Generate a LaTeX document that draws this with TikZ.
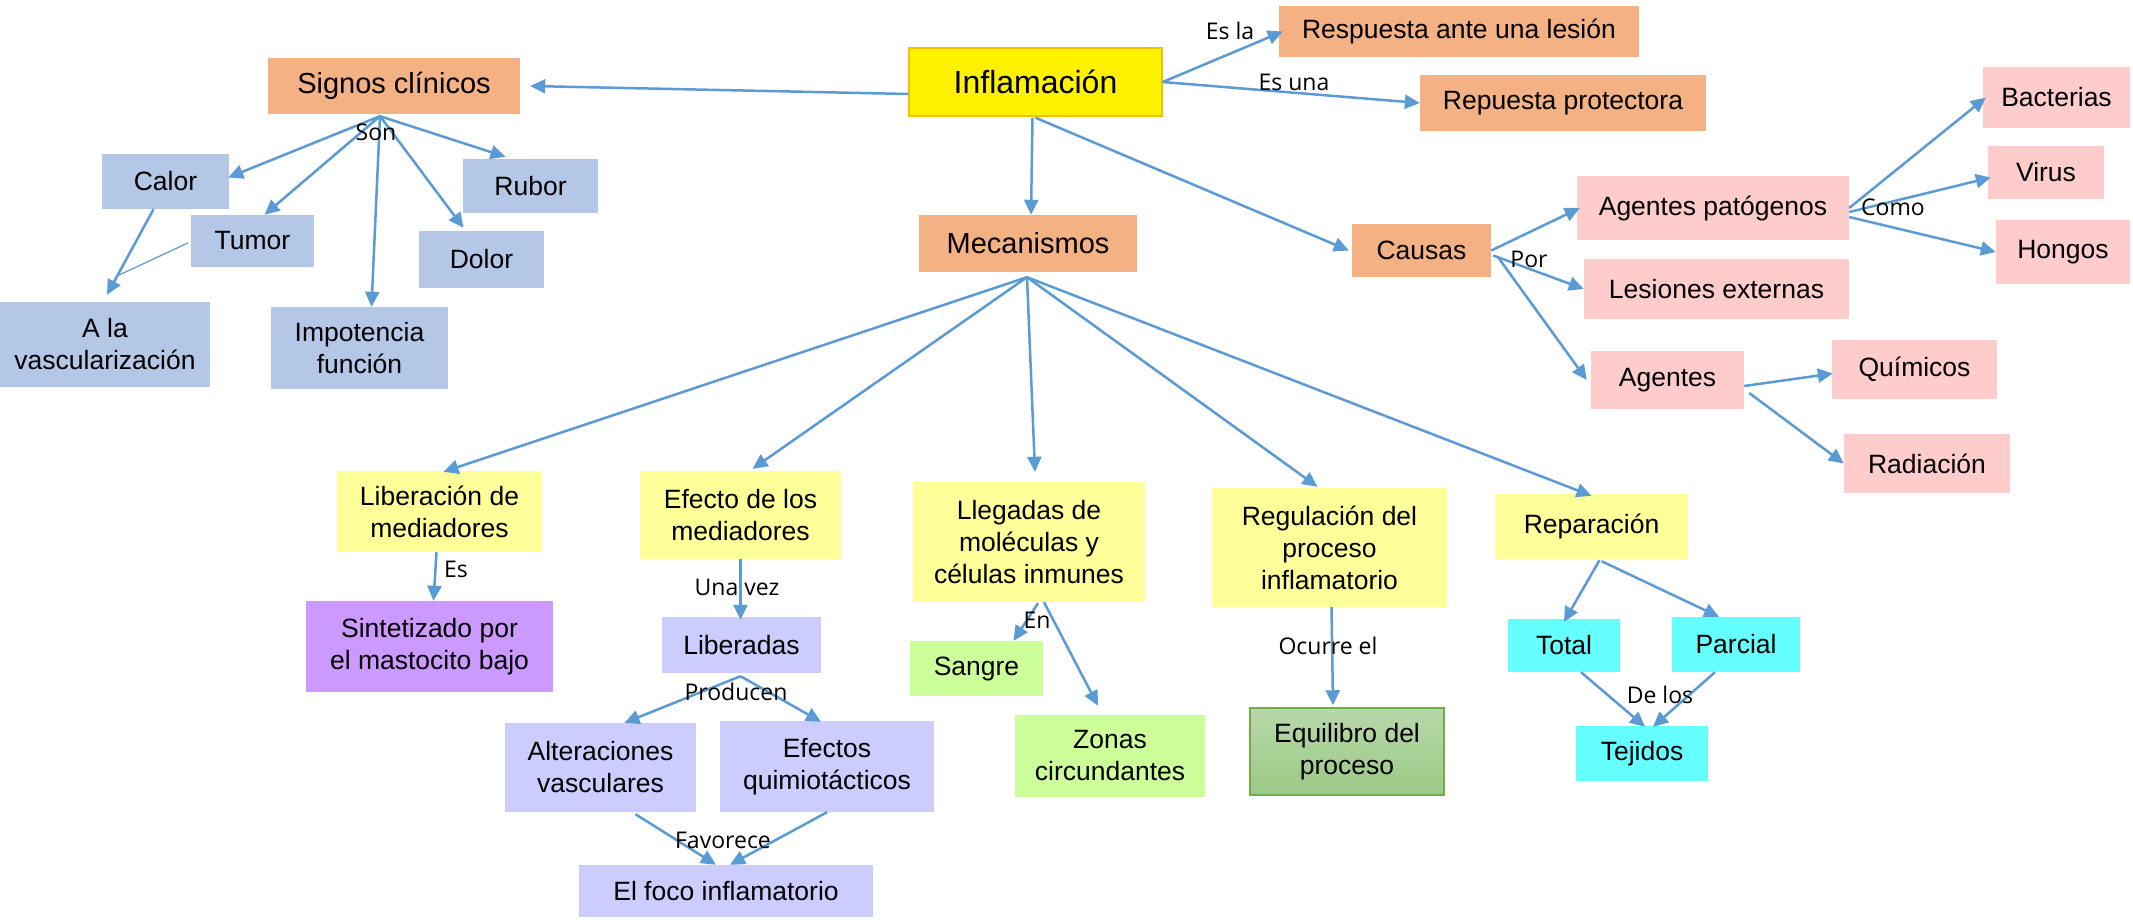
\documentclass[tikz,border=0pt]{standalone}
\usepackage{fontspec}
\setmainfont{Liberation Sans}
\newfontfamily\labfont{Open Sans}
\usetikzlibrary{arrows.meta,calc}
\definecolor{orgC}{HTML}{F4B183}
\definecolor{bluC}{HTML}{B4C7E7}
\definecolor{pnkC}{HTML}{FFCCCC}
\definecolor{ylwC}{HTML}{FFFF99}
\definecolor{purC}{HTML}{CC99FF}
\definecolor{lavC}{HTML}{CCCCFF}
\definecolor{grnC}{HTML}{CCFF99}
\definecolor{cyaC}{HTML}{66FFFF}
\definecolor{arrC}{HTML}{5B9BD5}
\definecolor{goldC}{HTML}{F5C000}
\definecolor{eqTop}{HTML}{B8D8AA}
\definecolor{eqBot}{HTML}{9CC986}
\definecolor{eqBrd}{HTML}{70AD47}
\newcommand\mkbox[7]{\node[box,#2,minimum width=#5pt,minimum height=#6pt] (#1) at (#3,#4) {#7};}
\begin{document}
\begin{tikzpicture}[x=1pt,y=-1pt,
  box/.style={inner sep=0pt, align=center, font=\fontsize{26.5}{32}\selectfont},
  big/.style={font=\fontsize{29}{34}\selectfont},
  conn/.style={draw=arrC, line width=2.5pt, -{Triangle[length=15pt,width=14pt]}},
  thin/.style={draw=arrC, line width=1.2pt},
  lbl/.style={font=\labfont\fontsize{23}{27}\selectfont, inner sep=0pt}]
\useasboundingbox (0,0) rectangle (2133,921);
\fill[white] (0,0) rectangle (2133,921);

% top level
\mkbox{inf}{fill=yellow,draw=goldC,line width=1.5pt,font=\fontsize{32}{38}\selectfont}{1035.5}{82}{253}{68}{Inflamación}
\mkbox{sig}{fill=orgC,big}{394}{86}{252}{56}{Signos clínicos}
\mkbox{resp}{fill=orgC}{1459}{31.5}{360}{51}{Respuesta ante una lesión}
\mkbox{prot}{fill=orgC}{1563}{103}{286}{56}{Repuesta protectora}
\mkbox{mec}{fill=orgC,big}{1028}{243.5}{218}{57}{Mecanismos}
\mkbox{causas}{fill=orgC}{1421.5}{250.5}{139}{53}{Causas}

% signos
\mkbox{calor}{fill=bluC}{165.5}{181.5}{127}{55}{Calor}
\mkbox{tumor}{fill=bluC}{252.5}{241}{123}{52}{Tumor}
\mkbox{rubor}{fill=bluC}{530.5}{186}{135}{54}{Rubor}
\mkbox{dolor}{fill=bluC}{481.5}{259.5}{125}{57}{Dolor}
\mkbox{ala}{fill=bluC}{105}{344.5}{210}{85}{A la\\vascularización}
\mkbox{impot}{fill=bluC}{359.5}{348}{177}{82}{Impotencia\\función}

% causas
\mkbox{ap}{fill=pnkC}{1713}{208}{272}{64}{Agentes patógenos}
\mkbox{les}{fill=pnkC}{1716.5}{289}{265}{60}{Lesiones externas}
\mkbox{ag}{fill=pnkC}{1667.5}{380}{153}{58}{Agentes}
\mkbox{quim}{fill=pnkC}{1914.5}{369.5}{165}{59}{Químicos}
\mkbox{rad}{fill=pnkC}{1927}{463.5}{166}{59}{Radiación}
\mkbox{bact}{fill=pnkC}{2056.5}{97.5}{147}{61}{Bacterias}
\mkbox{virus}{fill=pnkC}{2046}{172.5}{116}{53}{Virus}
\mkbox{hongos}{fill=pnkC}{2063}{252}{134}{64}{Hongos}

% mecanismos
\mkbox{lib}{fill=ylwC}{439.5}{511.5}{205}{81}{Liberación de\\mediadores}
\mkbox{efe}{fill=ylwC}{740.5}{515}{201}{88}{Efecto de los\\mediadores}
\mkbox{lleg}{fill=ylwC}{1029}{542}{232}{120}{Llegadas de\\moléculas y\\células inmunes}
\mkbox{reg}{fill=ylwC}{1329.5}{547.5}{235}{119}{Regulación del\\proceso\\inflamatorio}
\mkbox{rep}{fill=ylwC}{1591.5}{526.5}{193}{65}{Reparación}

\mkbox{sint}{fill=purC}{429.5}{646.5}{247}{91}{Sintetizado por\\el mastocito bajo}
\mkbox{liber}{fill=lavC}{741.5}{645}{159}{56}{Liberadas}
\mkbox{alt}{fill=lavC}{600.5}{767.5}{191}{89}{Alteraciones\\vasculares}
\mkbox{efq}{fill=lavC}{827}{766.5}{214}{91}{Efectos\\quimiotácticos}
\mkbox{foco}{fill=lavC}{726}{891}{294}{52}{El foco inflamatorio}
\mkbox{sangre}{fill=grnC}{976.5}{668.5}{133}{55}{Sangre}
\mkbox{zonas}{fill=grnC}{1110}{756}{190}{82}{Zonas\\circundantes}
\mkbox{equi}{top color=eqTop,bottom color=eqBot,draw=eqBrd,line width=1.5pt}{1347}{751.5}{194}{87}{Equilibro del\\proceso}
\mkbox{total}{fill=cyaC}{1564}{645.5}{112}{53}{Total}
\mkbox{parc}{fill=cyaC}{1736}{644.5}{128}{55}{Parcial}
\mkbox{tej}{fill=cyaC}{1642}{753.5}{132}{55}{Tejidos}

% hubs
\coordinate (sighub) at ($(sig.south)+(-14,2)$);
\coordinate (mechub) at ($(mec.south)+(-1,5)$);
\coordinate (libhub) at ($(liber.south)+(-1,3)$);
\coordinate (tumjoin) at (117,276);

% connectors from Inflamación
\draw[conn] ($(inf.west)+(0,12)$) -- ($(sig.east)+(10,0)$);
\draw[conn] (inf.east) -- ($(resp.west)+(4,0)$);
\draw[conn] (inf.east) -- (prot.west);
\draw[conn] ($(inf.south)+(-3,1)$) -- ($(mec.north)+(3,0)$);
\draw[conn] ($(inf.south)+(0,1)$) -- ($(causas.west)+(-3,0)$);

% Signos
\draw[conn] (sighub) -- ($(calor.east)+(-1,-4)$);
\draw[conn] (sighub) -- ($(tumor.north)+(12,0)$);
\draw[conn] (sighub) -- ($(impot.north)+(12,0)$);
\draw[conn] (sighub) -- ($(dolor.north)+(-18,-3)$);
\draw[conn] (sighub) -- ($(rubor.north)+(-25,-2)$);
\draw[conn] ($(calor.south)+(-12,0)$) -- ($(ala.north)+(2,-7)$);
\draw[thin] ($(tumor.west)+(-3,2)$) -- (tumjoin);

% Mecanismos
\draw[conn] (mechub) -- ($(lib.north)+(4,1)$);
\draw[conn] (mechub) -- ($(efe.north)+(12,-2)$);
\draw[conn] (mechub) -- ($(lleg.north)+(6,-10)$);
\draw[conn] (mechub) -- ($(reg.north)+(-12,-1)$);
\draw[conn] (mechub) -- ($(rep.north)+(0,2)$);

\draw[conn] ($(lib.south)+(-3,0)$) -- ($(sint.north)+(4,0)$);
\draw[conn] (efe.south) -- ($(liber.north)+(-1,3)$);
\draw[conn] (libhub) -- ($(alt.north)+(24,0)$);
\draw[conn] (libhub) -- ($(efq.north)+(-6,1)$);
\draw[conn] ($(alt.south)+(35,2)$) -- ($(foco.north)+(-10,0)$);
\draw[conn] (efq.south) -- ($(foco.north)+(4,0)$);
\draw[conn] ($(lleg.south)+(9,1)$) -- ($(sangre.north)+(37,0)$);
\draw[conn] ($(lleg.south)+(15,0)$) -- ($(zonas.north)+(-12,-9)$);
\draw[conn] ($(reg.south)+(2,0)$) -- ($(equi.north)+(-14,-2)$);
\draw[conn] ($(rep.south)+(8,1)$) -- ($(total.north)+(0,3)$);
\draw[conn] ($(rep.south)+(10,2)$) -- ($(parc.north)+(-17,0)$);
\draw[conn] ($(total.south)+(17,0)$) -- ($(tej.north)+(3,1)$);
\draw[conn] ($(parc.south)+(-21,0)$) -- ($(tej.north)+(11,1)$);

% Causas
\draw[conn] (causas.east) -- ($(ap.west)+(3,0)$);
\draw[conn] ($(causas.east)+(2,5)$) -- (les.west);
\draw[conn] ($(causas.east)+(7,7)$) -- ($(ag.west)+(-4,0)$);
\draw[conn] (ap.east) -- ($(bact.west)+(3,0)$);
\draw[conn] ($(ap.east)+(0,4)$) -- ($(virus.west)+(3,5)$);
\draw[conn] ($(ap.east)+(0,9)$) -- (hongos.west);
\draw[conn] ($(ag.east)+(0,6)$) -- ($(quim.west)+(1,4)$);
\draw[conn] ($(ag.east)+(5,13)$) -- (rad.west);

% labels
\node[lbl] (l1) at (1230,31) {Es la};
\node[lbl] (l2) at (1294,82) {Es una};
\node[lbl] (l3) at (376,132) {Son};
\node[lbl] (l4) at (1893,207) {Como};
\node[lbl] (l5) at (1529,259) {Por};
\node[lbl] (l6) at (456,569) {Es};
\node[lbl] (l7) at (737,587) {Una vez};
\node[lbl] (l8) at (1037,620) {En};
\node[lbl] (l9) at (736,692) {Producen};
\node[lbl] (l10) at (723,840) {Favorece};
\node[lbl] (l11) at (1328,646) {Ocurre el};
\node[lbl] (l12) at (1660,695) {De los};
\end{tikzpicture}
\end{document}
